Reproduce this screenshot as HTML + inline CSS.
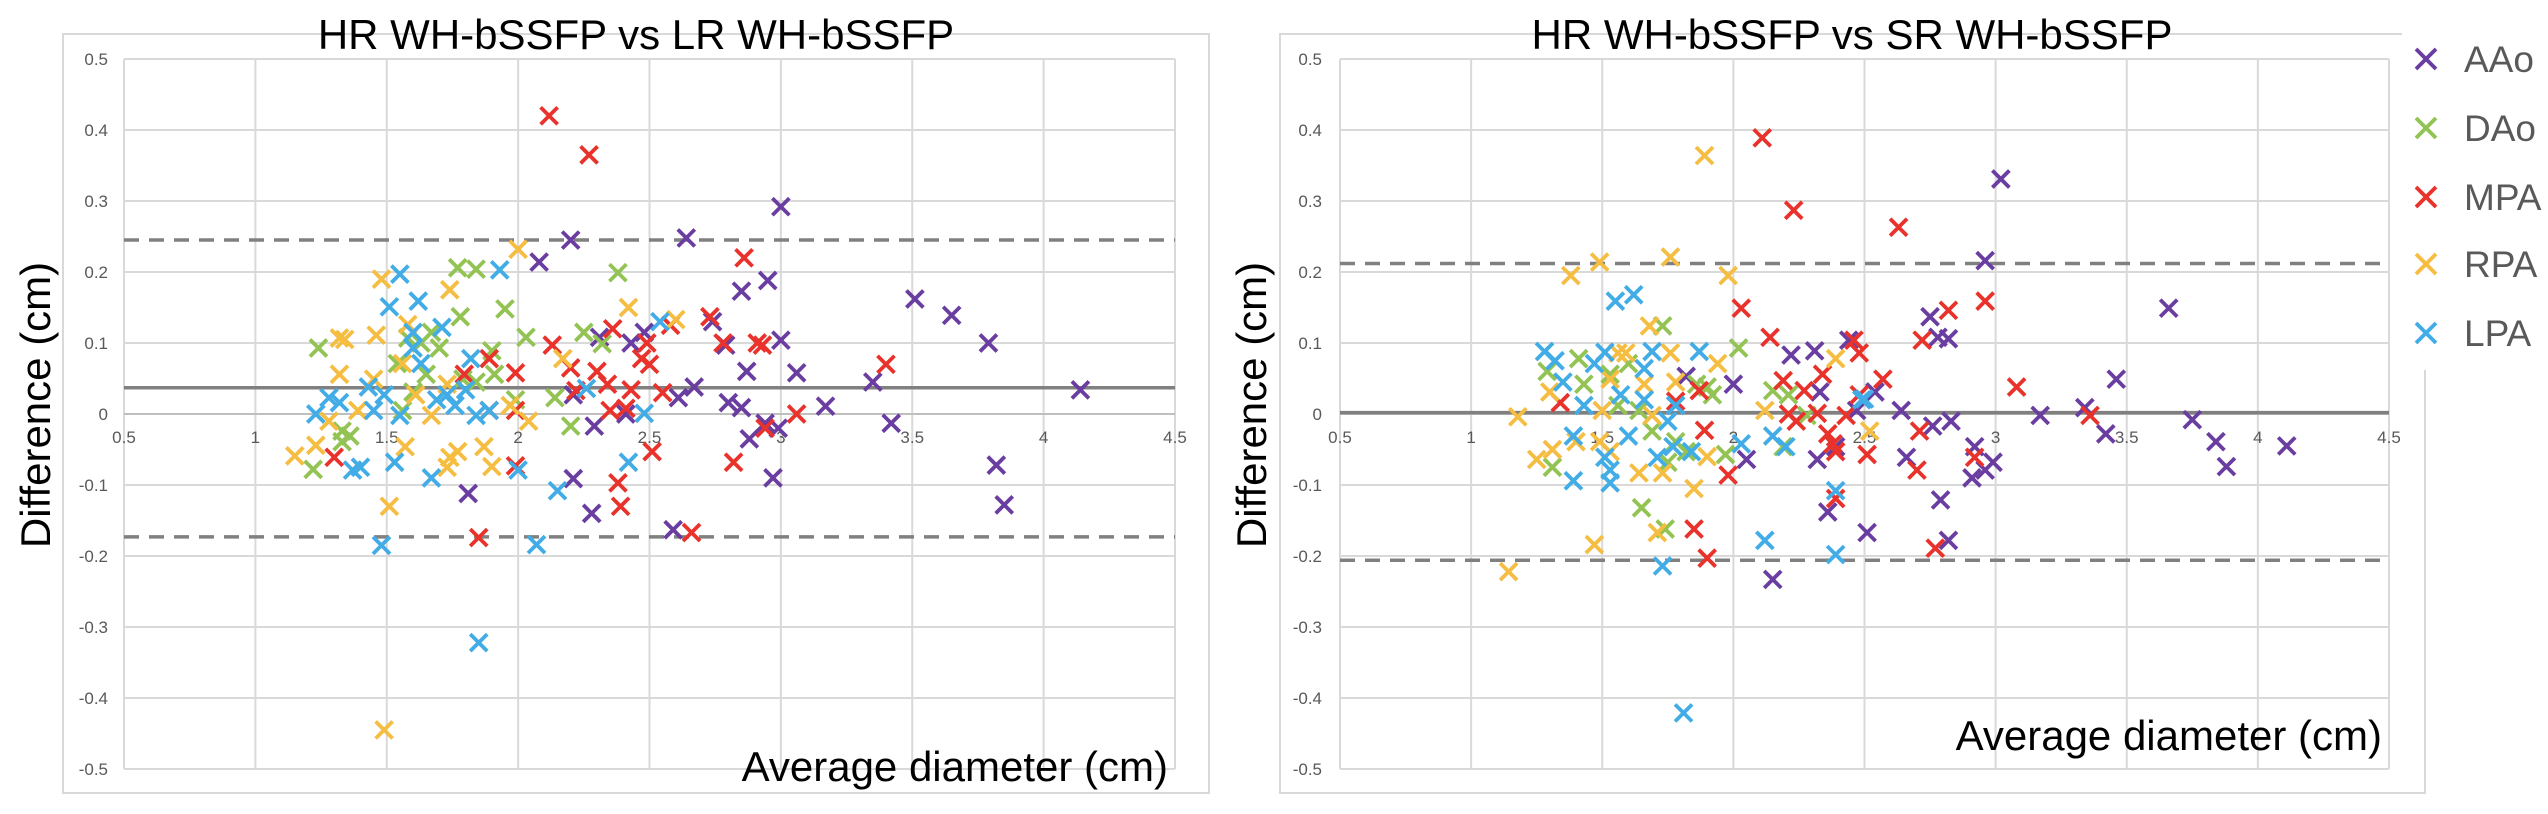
<!DOCTYPE html>
<html><head><meta charset="utf-8"><style>
html,body{margin:0;padding:0;background:#fff;}
svg{display:block;font-family:"Liberation Sans",Arial,sans-serif;}
</style></head><body>
<svg id="root" width="2548" height="814" viewBox="0 0 2548 814" xmlns="http://www.w3.org/2000/svg">
<g id="left"></g>
<g id="right"></g>
<g id="legend"></g>
</svg>
<script>
const seriesNames = ["AAo","DAo","MPA","RPA","LPA"];
const seriesColors = ["#6a3da0","#92c353","#e8322b","#f5bd41","#42ace6"];
const xTicks = [0.5,1,1.5,2,2.5,3,3.5,4,4.5];
const xTickLabels = ["0.5","1","1.5","2","2.5","3","3.5","4","4.5"];
const yTicks = [0.5,0.4,0.3,0.2,0.1,0,-0.1,-0.2,-0.3,-0.4,-0.5];
const yTickLabels = ["0.5","0.4","0.3","0.2","0.1","0","-0.1","-0.2","-0.3","-0.4","-0.5"];

const leftMean = 0.037, leftUpper = 0.245, leftLower = -0.173;
const rightMean = 0.002, rightUpper = 0.212, rightLower = -0.206;

const L_AAo_x = [2.08,2.2,2.64,1.81,2.21,2.28,2.29,2.31,2.43,2.48,2.59,2.61,2.67,2.21,2.41,2.74,2.79,2.85,2.87,2.80,2.85,2.88,3.0,2.95,3.0,3.06,3.17,3.35,3.42,3.51,3.65,3.79,3.82,3.85,4.14,2.97,2.94,2.99];
const L_AAo_y = [0.214,0.245,0.248,-0.112,-0.091,-0.14,-0.017,0.108,0.10,0.115,-0.163,0.023,0.038,0.027,0.0,0.13,0.097,0.173,0.06,0.016,0.009,-0.035,0.292,0.188,0.104,0.058,0.011,0.045,-0.013,0.162,0.139,0.10,-0.072,-0.128,0.034,-0.09,-0.013,-0.02];
const L_DAo_x = [1.24,1.22,1.36,1.33,1.33,1.58,1.63,1.67,1.70,1.77,1.84,1.78,1.95,2.03,1.90,1.91,1.79,1.84,1.99,2.14,2.2,2.25,2.32,2.38,1.60,1.65,1.56,1.54];
const L_DAo_y = [0.093,-0.078,-0.031,-0.024,-0.039,0.107,0.10,0.115,0.093,0.206,0.204,0.137,0.148,0.108,0.089,0.056,0.049,0.045,0.02,0.023,-0.017,0.115,0.099,0.199,0.031,0.056,0.005,0.071];
const L_MPA_x = [2.118,2.27,1.30,1.89,1.795,1.99,1.99,1.85,2.13,2.20,2.30,2.36,2.34,2.38,2.39,2.43,2.47,2.49,2.50,2.51,2.55,2.58,2.66,2.73,2.78,2.82,2.86,2.35,2.41,1.89,1.99,2.22,2.91,2.93,2.94,3.06,3.40];
const L_MPA_y = [0.42,0.365,-0.061,0.078,0.056,0.058,-0.073,-0.174,0.097,0.065,0.06,0.12,0.042,-0.097,-0.13,0.034,0.078,0.10,0.07,-0.053,0.03,0.125,-0.167,0.137,0.10,-0.068,0.22,0.005,0.008,0.005,0.005,0.033,0.10,0.097,-0.02,0.0,0.07];
const L_RPA_x = [1.15,1.23,1.32,1.34,1.32,1.46,1.48,1.51,1.49,1.58,1.56,1.57,1.74,1.74,1.73,1.77,1.87,1.90,2.0,2.04,2.17,2.42,2.60,1.45,1.61,1.67,1.28,1.39,1.73,1.97];
const L_RPA_y = [-0.059,-0.044,0.107,0.105,0.056,0.111,0.19,-0.13,-0.445,0.126,0.071,-0.046,0.175,-0.061,-0.075,-0.053,-0.046,-0.074,0.232,-0.01,0.078,0.15,0.133,0.049,0.027,-0.002,-0.01,0.005,0.042,0.012];
const L_LPA_x = [1.23,1.28,1.32,1.37,1.40,1.43,1.45,1.51,1.55,1.53,1.48,1.62,1.60,1.63,1.60,1.71,1.67,1.69,1.76,1.82,1.80,1.84,1.93,1.85,2.0,2.07,2.15,2.26,2.42,2.48,2.54,1.49,1.55,1.73,1.89];
const L_LPA_y = [0.0,0.023,0.016,-0.079,-0.075,0.038,0.005,0.151,0.197,-0.068,-0.185,0.159,0.115,0.071,0.093,0.122,-0.09,0.02,0.012,0.078,0.034,-0.002,0.203,-0.322,-0.079,-0.184,-0.108,0.036,-0.068,0.001,0.13,0.027,-0.002,0.027,0.005];

const R_AAo_x = [1.82,2.0,2.05,2.15,2.22,2.31,2.32,2.33,2.36,2.39,2.44,2.47,2.54,2.51,2.64,2.66,2.75,2.78,2.82,2.79,2.82,2.76,2.83,2.92,2.91,2.96,2.96,2.99,3.02,3.17,3.34,3.42,3.46,3.66,3.75,3.84,3.88,4.11];
const R_AAo_y = [0.053,0.042,-0.064,-0.233,0.083,0.089,-0.064,0.031,-0.138,-0.046,0.104,0.005,0.031,-0.167,0.005,-0.061,0.137,0.108,0.106,-0.121,-0.178,-0.017,-0.01,-0.046,-0.09,0.216,-0.079,-0.068,0.331,-0.002,0.009,-0.028,0.049,0.149,-0.008,-0.039,-0.074,-0.045];
const R_DAo_x = [1.31,1.29,1.41,1.43,1.53,1.56,1.60,1.65,1.69,1.73,1.74,1.78,1.82,1.90,1.92,1.97,2.02,2.15,2.19,2.21,2.28,1.64,1.75,1.86];
const R_DAo_y = [-0.075,0.06,0.078,0.042,0.056,0.012,0.071,-0.132,-0.024,0.124,-0.162,-0.039,-0.053,0.038,0.027,-0.057,0.093,0.033,-0.046,0.027,-0.002,0.005,-0.068,0.042];
const R_MPA_x = [1.34,1.78,1.85,1.87,1.89,1.90,1.98,2.03,2.11,2.14,2.19,2.21,2.23,2.24,2.27,2.32,2.34,2.38,2.39,2.39,2.43,2.46,2.48,2.48,2.51,2.57,2.63,2.71,2.72,2.70,2.77,2.82,2.92,2.96,3.08,3.36,2.36];
const R_MPA_y = [0.016,0.018,-0.162,0.033,-0.023,-0.203,-0.086,0.149,0.389,0.108,0.047,0.0,0.287,-0.01,0.033,0.001,0.056,-0.042,-0.119,-0.053,-0.002,0.104,0.086,0.027,-0.057,0.049,0.263,-0.024,0.104,-0.079,-0.189,0.146,-0.061,0.159,0.038,-0.002,-0.028];
const R_RPA_x = [1.143,1.178,1.25,1.31,1.30,1.38,1.49,1.47,1.50,1.53,1.56,1.59,1.64,1.68,1.71,1.73,1.76,1.76,1.78,1.85,1.89,1.94,1.98,2.12,2.39,2.52,1.53,1.90,1.69,1.40,1.66,1.49];
const R_RPA_y = [-0.222,-0.004,-0.064,-0.05,0.031,0.195,0.214,-0.184,0.005,-0.053,0.086,0.086,-0.083,0.124,-0.167,-0.083,0.221,0.086,0.045,-0.105,0.364,0.071,0.195,0.005,0.078,-0.024,0.049,-0.06,-0.002,-0.039,0.042,-0.039];
const R_LPA_x = [1.28,1.32,1.35,1.39,1.39,1.43,1.47,1.51,1.51,1.53,1.53,1.55,1.62,1.57,1.60,1.66,1.66,1.69,1.71,1.73,1.75,1.77,1.78,1.81,1.84,1.87,2.03,2.12,2.15,2.20,2.39,2.39,2.49,2.50];
const R_LPA_y = [0.088,0.075,0.045,-0.031,-0.094,0.012,0.071,0.087,-0.061,-0.079,-0.097,0.159,0.168,0.027,-0.031,0.020,0.064,0.088,-0.061,-0.214,-0.01,-0.046,0.012,-0.421,-0.053,0.088,-0.042,-0.178,-0.031,-0.046,-0.108,-0.198,0.02,0.021];

const leftSeriesX = [L_AAo_x,L_DAo_x,L_MPA_x,L_RPA_x,L_LPA_x];
const leftSeriesY = [L_AAo_y,L_DAo_y,L_MPA_y,L_RPA_y,L_LPA_y];
const rightSeriesX = [R_AAo_x,R_DAo_x,R_MPA_x,R_RPA_x,R_LPA_x];
const rightSeriesY = [R_AAo_y,R_DAo_y,R_MPA_y,R_RPA_y,R_LPA_y];

const NS = "http://www.w3.org/2000/svg";
function mk(parent, tag, attrs, text){
  const e = document.createElementNS(NS, tag);
  for (const k in attrs) e.setAttribute(k, attrs[k]);
  if (text !== undefined) e.textContent = text;
  parent.appendChild(e);
  return e;
}
function xMark(g, cx, cy, color, h){
  const p = mk(g, "path", {d:`M${cx-h},${cy-h}L${cx+h},${cy+h}M${cx-h},${cy+h}L${cx+h},${cy-h}`, stroke:color, "stroke-width":3.8, fill:"none", "stroke-linecap":"butt"});
  return p;
}

function drawChart(g, cfg){
  const xs = v => cfg.x0 + (v-0.5)/4*(cfg.x1-cfg.x0);
  const ys = v => cfg.y0 + (0.5-v)/1*(cfg.y1-cfg.y0);
  const frame = mk(g,"rect",{x:cfg.fx,y:cfg.fy,width:cfg.fw,height:cfg.fh,fill:"#fff",stroke:"#d9d9d9","stroke-width":2});
  
  
  yTicks.forEach((t,i)=>{
    const l = mk(g,"line",{x1:cfg.x0,x2:cfg.x1,y1:ys(t),y2:ys(t),stroke:"#d9d9d9","stroke-width":2});
    
    
    const tx = mk(g,"text",{x:cfg.ylx,y:ys(t)+6,"text-anchor":"end","font-size":17,fill:"#595959"},yTickLabels[i]);
    
    
  });
  xTicks.forEach((t,i)=>{
    const l = mk(g,"line",{x1:xs(t),x2:xs(t),y1:cfg.y0,y2:cfg.y1,stroke:"#d9d9d9","stroke-width":2});
    
    
    const tx = mk(g,"text",{x:xs(t),y:ys(0)+29,"text-anchor":"middle","font-size":17,fill:"#595959"},xTickLabels[i]);
    
    
  });
  const ax = mk(g,"line",{x1:cfg.x0,x2:cfg.x1,y1:ys(0),y2:ys(0),stroke:"#bfbfbf","stroke-width":2});
  
  
  [[cfg.upper,"upper-limit-line"],[cfg.lower,"lower-limit-line"]].forEach(([v,n])=>{
    const l = mk(g,"line",{x1:cfg.x0,x2:cfg.x1,y1:ys(v),y2:ys(v),stroke:"#808080","stroke-width":3.5,"stroke-dasharray":"15 10"});
    
    
  });
  const m = mk(g,"line",{x1:cfg.x0,x2:cfg.x1,y1:ys(cfg.mean),y2:ys(cfg.mean),stroke:"#808080","stroke-width":3.5});
  
  
  cfg.sx.forEach((arr,si)=>{
    const sg = mk(g,"g",{});
    
    
    arr.forEach((xv,j)=>{
      const p = xMark(sg, xs(xv), ys(cfg.sy[si][j]), seriesColors[si], 8.5);
      
      
    });
  });
  const t = mk(g,"text",{x:cfg.tx,y:49,"text-anchor":"middle","font-size":42,fill:"#000"},cfg.title);
  
  
  const yt = mk(g,"text",{x:0,y:0,transform:`translate(${cfg.ytx},405) rotate(-90)`,"text-anchor":"middle","font-size":42,fill:"#000"},"Difference (cm)");
  
  
  const xt = mk(g,"text",{x:cfg.xtx,y:cfg.xty,"text-anchor":"end","font-size":42,fill:"#000"},"Average diameter (cm)");
  
  
}

drawChart(document.getElementById('left'),{x0:124,x1:1175,y0:59,y1:769,fx:63,fy:34,fw:1146,fh:759,ylx:108,
  mean:leftMean,upper:leftUpper,lower:leftLower,sx:leftSeriesX,sy:leftSeriesY,
  title:"HR WH-bSSFP vs LR WH-bSSFP",tx:636,ytx:50,xtx:1168,xty:781});
drawChart(document.getElementById('right'),{x0:1340,x1:2389,y0:59,y1:769,fx:1280,fy:34,fw:1145,fh:759,ylx:1322,
  mean:rightMean,upper:rightUpper,lower:rightLower,sx:rightSeriesX,sy:rightSeriesY,
  title:"HR WH-bSSFP vs SR WH-bSSFP",tx:1852,ytx:1266,xtx:2382,xty:750});

const lg = document.getElementById('legend');
mk(lg,"rect",{x:2402,y:20,width:146,height:350,fill:"#fff"});
const legendY = [59,128,197,264,333];
seriesNames.forEach((n,i)=>{
  const g = mk(lg,"g",{});
  
  
  const p = xMark(g, 2426, legendY[i], seriesColors[i], 10);
  
  
  const t = mk(g,"text",{x:2464,y:legendY[i]+13,"font-size":37,fill:"#595959"},n);
  
  
});
</script>
</body></html>
